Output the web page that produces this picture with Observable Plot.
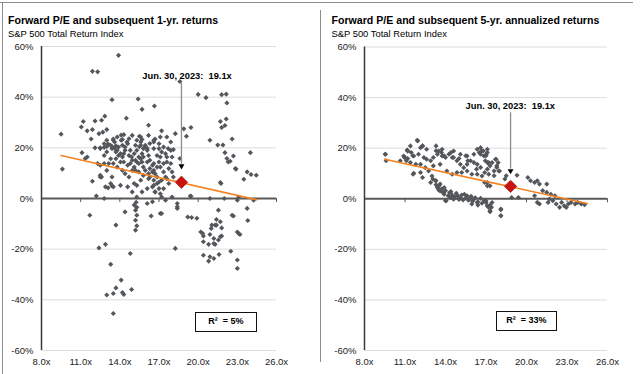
<!DOCTYPE html>
<html>
<head>
<meta charset="utf-8">
<script src="https://cdn.jsdelivr.net/npm/d3@7"></script>
<script src="https://cdn.jsdelivr.net/npm/@observablehq/plot@0.6"></script>
<style>
  html, body { margin: 0; padding: 0; background: #fff; }
  #wrap { position: relative; width: 640px; height: 374px; overflow: hidden; font-family: "Liberation Sans", Arial, sans-serif; }
  .panel { position: absolute; top: 0; width: 320px; height: 374px; }
  .title { position: absolute; font-weight: bold; font-size: 10.6px; color: #000; white-space: nowrap; }
  .sub { position: absolute; font-size: 9.4px; color: #000; white-space: nowrap; }
  .rbox { position: absolute; border: 1.5px solid #111; background: #fff; font-weight: bold; font-size: 9px; text-align: center; box-sizing: border-box; white-space: pre; }
  .line { position: absolute; background: #8c8c8c; }
</style>
</head>
<body>
<div id="wrap"></div>
<script>
// ---------- data ----------
const titles = ["Forward P/E and subsequent 1-yr. returns", "Forward P/E and subsequent 5-yr. annualized returns"];
const subtitle = "S&P 500 Total Return Index";
const yTicks = [-60, -40, -20, 0, 20, 40, 60];
const xTicks = [8, 11, 14, 17, 20, 23, 26];
const annotationText = "Jun. 30, 2023:  19.1x";
const rSquared = ["R\u00B2  = 5%", "R\u00B2  = 33%"];
const currentPE = [18.72, 18.82];
const currentRet = [6.4, 4.9];
const trendX = [9.5, 24.5];
const trend1Yr = [17.0, -0.5];
const trend5Yr = [15.6, -1.9];

// [forward P/E, subsequent 1-yr return %]
const points1Yr = [
[13.9,56.5],[11.9,50.2],[12.3,50],[18.6,46.2],[20.0,41.1],[20.6,39.8],[21.8,41],[22.15,41.2],[22.2,37.7],[13.4,39],[15.4,39.3],[15.7,35.2],[16.65,36.5],[14.5,31.7],[9.5,25.4],[11.2,30.4],[11.05,28.2],[12.1,30.6],[12.6,30.9],[12.85,32.5],[11.5,26.7],[11.9,27.2],[12.4,25.6],[12.7,26.2],[13.0,27.2],[11.8,23.5],[13.5,23.5],[13.6,22.3],[14.1,25],[14.3,25.2],[14.1,23],[14.2,23.3],[14.55,22.3],[13.1,21.5],[13.0,20.5],[13.4,20.4],[13.7,20.8],[13.6,19.8],[12.1,20],[12.5,20],[12.8,20.2],[15.5,24.6],[15.7,23.3],[15.6,22.3],[15.2,21],[15.5,20.4],[16.2,28.9],[17.2,26.7],[16.7,23.5],[16.6,22.3],[16.3,21.7],[16.6,19.7],[17.0,19.7],[15.9,20.2],[16.1,19.8],[17.7,19.7],[18.1,19.3],[18.9,27.5],[19.45,28],[19.1,24.6],[20.9,23],[21.5,21.1],[21.9,21.1],[21.7,30.4],[22.15,31.4],[21.8,28],[22.05,28.8],[22.6,23.5],
[9.6,11.6],[11.1,18.1],[11.35,15.8],[11.5,16.4],[12.5,13.1],[12.6,8.5],[12.5,9.2],[11.9,6.8],[12.9,4.6],[13.1,4.2],[13.4,5],[12.2,1],[12.8,0],[11.7,-6.6],[13.7,-10.5],[12.4,-19.5],[12.9,-18.1],[15.1,-2.6],[15.2,-4.6],[15.3,-6.6],[14.4,-5.3],[16.1,-2],[16.4,-6.9],[17.1,-5.9],[15.3,-10.8],[15.2,-12.5],[17.5,-0.7],[18.4,-2],[18.4,-3.9],[19.4,1],[19.2,-7.3],[19.9,-7.8],[19.5,-7.5],[20.9,0],[21.7,6.3],[22.0,0],[22.9,11.6],[22.05,18.1],[22.2,15.8],[22.45,14.7],[22.7,16.8],[24.0,18.1],[23.75,10.5],[24.05,9.5],[24.45,9.2],[23.5,7.6],[24.25,-0.7],[23.1,0.6],[22.7,-6.9],[23.8,-8.7],[21.7,-9.2],[21.8,-11.6],[21.4,-10.5],[21.05,-10.5],[20.2,-13.2],[20.4,-14.8],[20.9,-14.2],[21.2,-15.8],[21.8,-14.8],[20.4,-17.1],[20.8,-18.1],[21.3,-18.1],[23.0,-13.2],[23.2,-14.2],[18.25,-19.7],[14.8,-21.7],[13.3,-26],[20.4,-22.4],[20.8,-24.7],[20.9,-23],[21.2,-23.7],[21.6,-22.1],[22.5,-20.8],[23.0,-24.3],[23.0,-27.6],[14.1,-32.2],[13.7,-35.3],[13.0,-38.1],[13.5,-37.5],[14.2,-37.1],[14.3,-37.9],[14.9,-35.9],[13.5,-45.4],
[16.5,-1.3],[16.7,2.6],[17.2,0.6],[17.2,-5.9],[18.0,0.6],[18.6,15.8],[22.85,11.8],[22.3,14.4],[22.6,-6.6],[23.1,-13.8],[20.35,-13.8],[21.0,-11.8],[21.3,-10.5],[21.55,-4.6],[21.4,-8.3],[21.55,-16.4],[21.7,-15.1],[21.2,-17.8],[23.75,-3.9],[21.75,5.9],[18.4,-3.3],[19.45,0.9],[15.3,0.6],[15.25,-1.5],[15.3,-3.5],[15.2,-8.6],[23.0,-0.7],
[12.5,19.7],[12.8,17.0],[13.0,18.4],[13.3,21.0],[13.5,23.0],[13.8,19.0],[13.7,15.7],[13.9,17.0],[14.05,14.4],[14.2,16.4],[14.3,17.7],[14.4,20.3],[14.6,21.6],[14.7,23.6],[14.8,19.0],[14.9,16.4],[14.95,15.1],[15.1,12.4],[15.2,11.1],[15.3,14.4],[15.45,13.8],[15.6,15.7],[15.7,17.7],[15.8,19.7],[15.95,21.0],[16.1,19.0],[16.2,17.0],[16.3,15.1],[16.5,13.1],[16.6,11.1],[16.7,9.8],[16.85,12.4],[17.0,14.4],[17.1,16.4],[17.2,18.4],[17.35,20.3],[17.5,17.7],[17.6,14.4],[17.75,11.8],[17.9,19.0],[18.0,10.5],[18.1,8.5],[16.85,5.9],[17.0,3.9],[16.6,7.2],[16.2,7.8],[15.8,9.1],[15.6,7.2],[15.3,5.2],[15.1,5.9],[14.7,8.5],[14.4,9.8],[14.2,11.1],[13.8,12.4],[13.5,13.8],[13.4,8.5],[13.3,5.9],[13.0,11.1],[12.8,13.8],[12.3,13.8],[12.5,8.5],[13.5,4.6],[14.05,5.2],[14.6,4.6],[14.95,2.6],[15.7,2.6],[16.1,3.9],[16.5,4.6],[16.7,2.6],[17.1,1.9],[17.35,3.9],[17.6,7.8],[13.8,24.3],[14.95,24.9],[15.3,23.0],[15.6,24.3],[16.2,24.9],[16.6,23.0],[17.0,21.6],[17.1,24.3],[17.6,24.3],[17.9,22.3],[18.25,25.6],
[13.9,20.3],[14.2,21.0],[14.4,19.0],[14.7,17.0],[15.1,17.7],[15.3,19.0],[15.6,21.0],[15.8,16.4],[16.1,14.4],[16.3,11.8],[16.5,10.5],[16.6,13.8],[16.85,17.0],[17.1,12.4],[17.35,10.5],[17.5,8.5],[17.75,5.9],[16.85,8.5],[16.2,9.8],[15.8,12.4],[15.45,10.5],[14.95,11.1],[14.6,13.1],[14.3,14.4],[14.05,17.7],[13.7,18.4],[13.3,15.7],[13.15,13.8],[12.8,21.6],[13.0,23.0],[13.4,19.7],[14.8,13.8],[15.2,15.1],[15.45,16.4],[15.7,14.4],[15.95,11.1],[16.3,8.5],[16.6,5.2],[17.0,6.5],[17.2,7.2],[17.35,13.8],[17.6,16.4],[17.9,13.8],[18.0,16.4]
];

// [forward P/E, subsequent 5-yr annualized return %]
const points5Yr = [
[9.53,17.6],[9.6,15],[11.95,22.9],[12.3,20.9],[11.16,19.3],[11.46,18.3],[11.2,15.9],[11.58,17],[10.96,16.3],[11.1,15],[11.65,10.1],[12.3,8.4],[12.9,6.4],[13.06,7.8],[13.3,7.1],[14.05,-0.8],[15.95,-2.1],[16.4,-2.5],[13.3,19],[13.7,18.3],[13.9,17],[14.5,16.3],[15.0,15.9],[15.5,17],[15.65,15],[16.5,18.3],[16.8,18.9],[17.0,17],[17.1,14.3],[16.3,11.7],[16.6,12.4],[16.9,10.4],[16.9,6.4],[17.1,5.1],[17.0,-0.8],[17.2,-3.4],
[17.1,18.3],[17.0,17.5],[17.2,14.3],[17.75,15.6],[17.9,14.3],[17.8,12.4],[17.6,11.0],[18.0,11.0],[17.6,9.1],[17.1,6.4],[17.3,5.1],[18.5,9.1],[18.4,7.8],[19.3,9.3],[18.9,0.5],[19.4,0.5],[17.0,-1.45],[17.3,-2.5],[17.4,-3.4],[17.1,-2.8],[17.3,-5.1],[18.1,-4.3],[18.1,-6.7],[20.1,8.4],[20.3,7.1],[20.6,6.4],[20.8,7.1],[20.96,5.8],[21.5,5.8],[20.6,1.2],[20.8,-1.45],[20.96,-2.1],[21.2,3.2],[21.5,2.5],[21.8,1.8],[22.1,1.2],[21.7,-0.1],[21.95,-0.8],[21.6,-1.45],[22.2,-2.1],[22.6,-1.45],[22.8,-2.8],[23.1,-2.1],[23.3,-1.45],[23.6,-2.1],[23.8,-1.45],[24.05,-2.1],[24.3,-2.4],[22.95,-3.4],[22.45,-3.4],
[9.56,17.6],[11.0,16.3],[11.2,18.9],[11.4,14.3],[11.6,9.7],[11.9,23.1],[12.3,20.9],[13.4,4.4],[13.6,3.1],[13.9,1.8],[14.0,-0.8],[14.4,0.5],[14.6,-0.2],[14.9,1.2],[15.1,0.5],[15.4,1.8],[15.6,1.2],[15.85,0.5],[16.1,-0.2],[16.35,-1.5],[16.85,-0.8],[17.1,-2.8],[17.3,-4.8],[17.45,-1.5],[18.1,-4.1],[18.1,-6.7],
[13.3,5.5],[13.5,5],[13.7,3.8],[13.8,2.5],[14.0,3.2],[14.2,1.2],[14.3,2.4],[14.5,1.5],[14.7,0.8],[14.8,2.2],[15.0,-0.3],[15.2,1.5],[15.3,-0.5],[15.5,0.3],[15.7,-0.6],[15.9,1.0],[16.0,-1.0],[16.2,0.4],[16.4,-1.2],[16.6,0.2],[16.7,-1.8],[13.5,3.5],[13.9,4.4],[14.4,2.8],
[11.2,18.9],[11.65,16.9],[12.0,17.6],[12.4,16.3],[12.6,15.6],[12.9,15.0],[13.1,16.3],[13.4,17.6],[13.5,18.9],[13.75,16.9],[14.0,16.3],[14.25,17.6],[14.4,18.3],[14.6,16.3],[14.85,15.0],[15.1,13.6],[15.35,12.3],[15.6,13.6],[15.85,15.0],[16.1,14.3],[16.35,13.6],[16.6,17.6],[16.7,18.9],[16.85,16.9],[16.95,15.0],[17.1,11.7],[17.2,9.7],[17.3,13.0],[17.45,14.3],[17.7,15.6],[17.8,13.0],[17.95,11.0],[12.15,13.6],[12.5,12.3],[12.75,11.0],[13.0,9.0],[13.25,7.1],[13.6,5.8],[14.1,11.0],[14.5,9.7],[14.85,10.4],[15.2,10.4],[15.6,11.0],[15.95,9.7],[16.35,9.7],[16.7,9.0],[13.1,13.0],[13.6,13.6],[12.15,20.2],[12.6,19.6],[13.3,20.9],[13.75,19.6],[14.6,18.9],[15.1,17.6],[15.6,16.9],[16.1,17.6],[16.35,19.6],[16.6,20.2],[17.1,19.6],[11.4,20.9],[11.8,13.6],[12.15,10.4],[10.9,16.9],[10.65,15.0]
];

// ---------- drawing ----------
const FONT = "Liberation Sans, Arial, sans-serif";
const wrap = document.getElementById("wrap");

function addEl(cls, text, style, parent) {
  const d = document.createElement("div");
  d.className = cls;
  if (text != null) d.textContent = text;
  Object.assign(d.style, style);
  (parent || wrap).appendChild(d);
  return d;
}

function makePanel(i, pts, trendY, cfg) {
  const panel = addEl("panel", null, {left: cfg.left + "px"});
  const data = pts.map(([pe, r]) => ({pe, r}));
  const trend = trendX.map((x, k) => ({x, y: trendY[k]}));
  const grid = yTicks.filter(d => d !== 0);
  const plot = Plot.plot({
    width: 320,
    height: 374,
    marginLeft: cfg.ml,
    marginRight: cfg.mr,
    marginTop: cfg.mt,
    marginBottom: 374 - cfg.mb,
    style: {fontFamily: FONT, fontSize: "9.5px", color: "#222", background: "transparent", overflow: "visible"},
    x: {domain: [8, 26]},
    y: {domain: [-60, 60]},
    marks: [
      Plot.ruleY(grid, {stroke: "#dcdcdc", strokeWidth: 1}),
      Plot.axisY(yTicks, {tickSize: 0, tickPadding: 8, tickFormat: d => d + "%", label: null, fontSize: 9.5, fill: "#222"}),
      Plot.axisX(xTicks, {anchor: "bottom", tickSize: 0, tickPadding: 8, tickFormat: d => d.toFixed(1) + "x", label: null, fontSize: 9.5, fill: "#222"}),
      Plot.ruleY([0], {stroke: "#595959", strokeWidth: 2}),
      Plot.ruleX(xTicks.slice(1), {y1: 0, y2: -1.6, stroke: "#595959", strokeWidth: 1}),
      Plot.ruleX([8], {stroke: "#3a3a3a", strokeWidth: 1.5}),
      Plot.dot(data, {x: "pe", y: "r", symbol: "diamond2", r: 2.3, fill: "#53575b", stroke: "none"}),
      Plot.line(trend, {x: "x", y: "y", stroke: "#f58220", strokeWidth: 1.6}),
      Plot.dot([0], {x: () => currentPE[i], y: () => currentRet[i], symbol: "diamond2", r: 5.6, fill: "#c8140c", stroke: "#9a0c06", strokeWidth: 0.6}),
      Plot.ruleX([0], {x: () => currentPE[i], y1: cfg.arrowTop, y2: cfg.arrowBottom + 1.5, stroke: "#8c8c8c", strokeWidth: 1.3}),
      Plot.dot([0], {x: () => currentPE[i], y: () => cfg.arrowBottom + 0.8, symbol: "triangle", r: 2.2, rotate: 180, fill: "#000"}),
      Plot.text([annotationText], {x: () => cfg.labelX, y: () => cfg.labelY, fontWeight: "bold", fontSize: 9.3, fill: "#000", text: d => d})
    ]
  });
  plot.style.position = "absolute";
  plot.style.left = "0px";
  plot.style.top = "0px";
  panel.appendChild(plot);
  addEl("title", titles[i], {left: cfg.tx + "px", top: "14px"}, panel);
  addEl("sub", subtitle, {left: cfg.tx + "px", top: "27.5px"}, panel);
  addEl("rbox", rSquared[i], {left: cfg.bx + "px", top: cfg.by + "px", width: cfg.bw + "px", height: "20px", lineHeight: "17px"}, panel);
}

// frame lines
addEl("line", null, {left: "0px", top: "2px", width: "633px", height: "1px"});
addEl("line", null, {left: "2px", top: "2px", width: "1px", height: "372px"});
addEl("line", null, {left: "320px", top: "10px", width: "1px", height: "352px"});

makePanel(0, points1Yr, trend1Yr, {left: 0, ml: 41, mr: 44, mt: 46, mb: 350, tx: 8, bx: 195, by: 311.5, bw: 62, arrowTop: 45.5, arrowBottom: 12, labelX: 19.15, labelY: 48.3});
makePanel(1, points5Yr, trend5Yr, {left: 320, ml: 44, mr: 33, mt: 46.5, mb: 350, tx: 11.5, bx: 176, by: 310.5, bw: 61, arrowTop: 34, arrowBottom: 10.2, labelX: 18.8, labelY: 36.8});
</script>
</body>
</html>
